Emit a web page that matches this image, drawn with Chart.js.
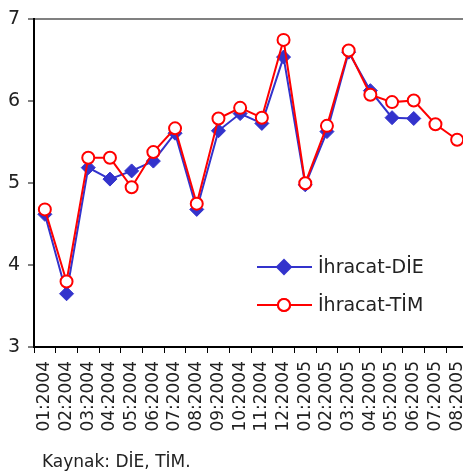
<!DOCTYPE html>
<html>
<head>
<meta charset="utf-8">
<script src="https://cdn.jsdelivr.net/npm/chart.js@4.4.0/dist/chart.umd.min.js"></script>
<style>
    html, body { margin: 0; padding: 0; background: #fff; overflow: hidden; }
    #wrap { width: 476px; height: 471px; }
</style>
</head>
<body>
<div id="wrap"><canvas id="chart" width="476" height="471"></canvas></div>
<script>
// aylar
const aylar = ["01:2004", "02:2004", "03:2004", "04:2004", "05:2004", "06:2004", "07:2004", "08:2004",
    "09:2004", "10:2004", "11:2004", "12:2004", "01:2005", "02:2005", "03:2005", "04:2005",
    "05:2005", "06:2005", "07:2005", "08:2005"];

// İhracat-DİE (son iki ay yok)
const ihracatDIE = [4.62, 3.65, 5.19, 5.05, 5.15, 5.27, 5.61, 4.68, 5.64, 5.85, 5.73, 6.54,
    4.98, 5.63, 6.60, 6.13, 5.80, 5.79, null, null];

// İhracat-TİM
const ihracatTIM = [4.68, 3.80, 5.31, 5.31, 4.95, 5.38, 5.67, 4.75, 5.79, 5.92, 5.80, 6.75,
    5.00, 5.70, 6.62, 6.08, 5.99, 6.01, 5.72, 5.53];

const yTicks = [3, 4, 5, 6, 7];
const kaynak = "Kaynak: DİE, TİM.";

const FONT = "'DejaVu Sans', sans-serif";

// grafik içindeki lejant ve alt not
const ekler = {
    id: "ekler",
    afterDraw(chart) {
        const ctx = chart.ctx;
        ctx.save();
        ctx.font = "19px " + FONT;
        ctx.textBaseline = "middle";
        const rows = [
            { ds: chart.data.datasets[0], y: 267 },
            { ds: chart.data.datasets[1], y: 305 }
        ];
        rows.forEach(r => {
            ctx.strokeStyle = r.ds.borderColor;
            ctx.lineWidth = 2;
            ctx.beginPath();
            ctx.moveTo(257, r.y);
            ctx.lineTo(312, r.y);
            ctx.stroke();
            Chart.helpers.drawPoint(ctx, {
                pointStyle: r.ds.pointStyle,
                radius: r.ds.pointRadius,
                borderWidth: r.ds.pointBorderWidth
            }, 284, r.y);
            ctx.fillStyle = r.ds.pointBackgroundColor;
            ctx.strokeStyle = r.ds.borderColor;
            ctx.lineWidth = r.ds.pointBorderWidth;
            ctx.fill();
            ctx.stroke();
            ctx.fillStyle = "#222";
            ctx.fillText(r.ds.label, 318, r.y + 1);
        });
        ctx.font = "17px " + FONT;
        ctx.textBaseline = "alphabetic";
        ctx.fillText(kaynak, 42, 467);
        ctx.restore();
    }
};

new Chart(document.getElementById("chart"), {
    type: "line",
    data: {
        labels: aylar,
        datasets: [{
            label: "İhracat-DİE",
            data: ihracatDIE,
            borderColor: "#3333cc",
            backgroundColor: "#3333cc",
            pointBackgroundColor: "#3333cc",
            pointStyle: "rectRot",
            pointRadius: 7,
            pointBorderWidth: 1,
            borderWidth: 2,
            tension: 0,
            order: 1
        }, {
            label: "İhracat-TİM",
            data: ihracatTIM,
            borderColor: "#ff0000",
            backgroundColor: "#ffffff",
            pointBackgroundColor: "#ffffff",
            pointStyle: "circle",
            pointRadius: 6,
            pointBorderWidth: 2,
            borderWidth: 2,
            tension: 0,
            order: 0
        }]
    },
    options: {
        responsive: false,
        animation: false,
        layout: { padding: { top: 17, right: 4, bottom: 0, left: 0 } },
        plugins: {
            legend: { display: false },
            tooltip: { enabled: false }
        },
        scales: {
            x: {
                offset: true,
                grid: { offset: true, drawOnChartArea: false, tickLength: 6, tickColor: "#000", tickWidth: 1 },
                border: { color: "#000", width: 2 },
                ticks: {
                    minRotation: 90, maxRotation: 90, autoSkip: false, padding: 8,
                    color: "#222", font: { family: FONT, size: 17 }
                },
                afterFit: s => { s.height = 124; s.paddingLeft = 0; s.paddingRight = 0; }
            },
            y: {
                min: 3, max: 7,
                afterBuildTicks: s => { s.ticks = yTicks.map(v => ({ value: v })); },
                grid: {
                    color: c => c.tick && c.tick.value === 7 ? "#808080" : "rgba(0,0,0,0)",
                    lineWidth: 2,
                    tickLength: 6, tickColor: "#000", tickWidth: 1
                },
                border: { color: "#000", width: 2 },
                ticks: { padding: 8, color: "#222", font: { family: FONT, size: 19 } },
                afterFit: s => { s.width = 34; }
            }
        }
    },
    plugins: [ekler]
});
</script>
</body>
</html>
